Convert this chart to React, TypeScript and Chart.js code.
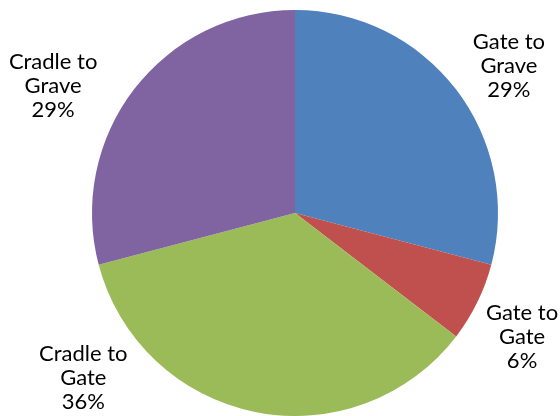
import React, { useEffect, useRef } from "react";
import { Chart, registerables } from "chart.js";

Chart.register(...registerables);

const categories: string[] = ["Gate to Grave", "Gate to Gate", "Cradle to Gate", "Cradle to Grave"];
const shares: number[] = [29.1, 6.3, 35.5, 29.1];
const sliceColors: string[] = ["#4F81BD", "#C0504D", "#9BBB59", "#8064A2"];

// label placement relative to each slice: angular shift (deg) and distance as a factor of radius
const labelAngleShift: number[] = [3.1, 2.5, 40.7, -9.9];
const labelDistance: number[] = [1.279, 1.274, 1.323, 1.346];

const outsideLabels = {
  id: "outsideLabels",
  afterDatasetsDraw(chart: any) {
    const ctx = chart.ctx;
    const meta = chart.getDatasetMeta(0);
    const data = chart.data.datasets[0].data as number[];
    const total = data.reduce((a, b) => a + b, 0);
    ctx.save();
    ctx.fillStyle = "#000000";
    ctx.font = "22px Lato";
    ctx.textAlign = "center";
    ctx.textBaseline = "middle";
    meta.data.forEach((arc: any, i: number) => {
      const p = arc.getProps(["x", "y", "startAngle", "endAngle", "outerRadius"], true);
      const mid = (p.startAngle + p.endAngle) / 2 + (labelAngleShift[i] * Math.PI) / 180;
      const d = p.outerRadius * labelDistance[i];
      const cx = p.x + Math.cos(mid) * d;
      const cy = p.y + Math.sin(mid) * d;
      const name = chart.data.labels[i] as string;
      const cut = name.lastIndexOf(" ");
      const lines = [name.slice(0, cut), name.slice(cut + 1), Math.round((data[i] / total) * 100) + "%"];
      const lh = 24;
      lines.forEach((t, k) => {
        ctx.fillText(t, cx, cy + (k - 1) * lh);
      });
    });
    ctx.restore();
  },
};

export default function App() {
  const ref = useRef<HTMLCanvasElement>(null);
  useEffect(() => {
    document.body.style.margin = "0";
    const chart = new Chart(ref.current!, {
      type: "pie",
      data: {
        labels: categories,
        datasets: [
          {
            data: shares,
            backgroundColor: sliceColors,
            borderWidth: 0,
          },
        ],
      },
      options: {
        animation: false,
        responsive: false,
        maintainAspectRatio: false,
        layout: { padding: { left: 92, right: 62, top: 10, bottom: 0 } },
        plugins: { legend: { display: false }, tooltip: { enabled: false } },
      },
      plugins: [outsideLabels],
    });
    return () => chart.destroy();
  }, []);
  return (
    <div style={{ width: 560, height: 416, background: "#fff" }}>
      <canvas ref={ref} width={560} height={416} />
    </div>
  );
}
